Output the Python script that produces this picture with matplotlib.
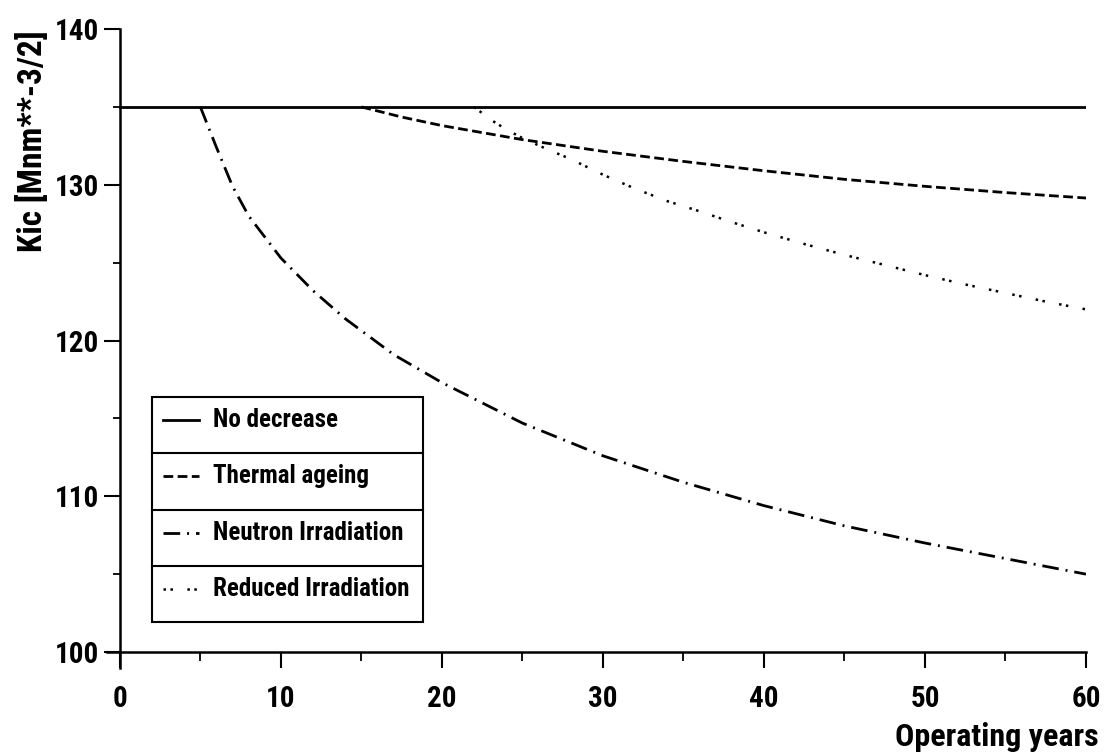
import matplotlib
matplotlib.use("Agg")
import matplotlib.pyplot as plt
from matplotlib.lines import Line2D
from matplotlib.patches import Rectangle
from matplotlib.ticker import MultipleLocator

plt.rcParams['font.family'] = ['Roboto Condensed', 'Liberation Sans', 'DejaVu Sans']
plt.rcParams['font.weight'] = 'bold'
plt.rcParams['lines.scale_dashes'] = False

# fracture toughness Kic over operating years, one list per case
years_none = [0, 60]
kic_none = [135.0, 135.0]

years_thermal = [15, 17.5, 20, 25, 30, 35, 40, 45, 50, 55, 60]
kic_thermal = [135.0, 134.35, 133.8, 132.9, 132.15, 131.5, 130.9, 130.35, 129.9, 129.5, 129.15]

years_neutron = [5, 6, 7, 8, 10, 12, 14, 17, 20, 25, 30, 35, 40, 45, 50, 55, 60]
kic_neutron = [135.0, 132.4, 129.9, 128.0, 125.3, 123.2, 121.4, 119.1, 117.3, 114.7,
               112.6, 110.9, 109.4, 108.1, 107.0, 106.0, 105.0]

years_reduced = [22, 23, 24, 25, 26.5, 28, 30, 32, 34, 36, 38, 40, 42.5, 45, 47.5,
                 50, 52.5, 55, 57.5, 60]
kic_reduced = [135.0, 134.2, 133.55, 133.0, 132.3, 131.65, 130.65, 129.75, 128.95, 128.3,
               127.6, 126.95, 126.2, 125.5, 124.85, 124.2, 123.6, 123.05, 122.5, 122.0]

labels = ["No decrease", "Thermal ageing", "Neutron Irradiation", "Reduced Irradiation"]

styles = [
    dict(linestyle='-', linewidth=2.0),
    dict(linestyle=(0, (7, 3.2)), linewidth=2.0, dash_capstyle='butt'),
    dict(linestyle=(0, (12, 5, 1.4, 5)), linewidth=2.0, dash_capstyle='butt'),
    dict(linestyle=(0, (1.8, 3.2, 1.8, 10.4)), linewidth=1.8, dash_capstyle='butt'),
]

fig = plt.figure(figsize=(11.05, 7.56), dpi=100)
ax = fig.add_axes([0.0968, 0.1169, 0.886, 0.8447])

series = [(years_none, kic_none), (years_thermal, kic_thermal),
          (years_neutron, kic_neutron), (years_reduced, kic_reduced)]
for (xs, ys), st in zip(series, styles):
    ax.plot(xs, ys, color='black', **st)

ax.set_xlim(-0.8, 60)
ax.set_ylim(99.0, 140)

for side in ['top', 'right']:
    ax.spines[side].set_visible(False)
ax.spines['left'].set_position(('data', 0))
ax.spines['bottom'].set_position(('data', 100))
ax.spines['left'].set_linewidth(1.8)
ax.spines['bottom'].set_linewidth(1.8)

ax.xaxis.set_major_locator(MultipleLocator(10))
ax.xaxis.set_minor_locator(MultipleLocator(5))
ax.yaxis.set_major_locator(MultipleLocator(10))
ax.yaxis.set_minor_locator(MultipleLocator(5))
ax.tick_params(axis='x', which='major', direction='out', length=11.5, width=1.5,
               pad=12, labelsize=21)
ax.tick_params(axis='x', which='minor', direction='out', length=6.5, width=1.3)
ax.tick_params(axis='y', which='major', direction='out', length=11.5, width=1.5,
               pad=3.5, labelsize=21)
ax.tick_params(axis='y', which='minor', direction='out', length=5, width=1.3)

fig.text(33 / 1105, 1 - 141 / 756, "Kic [Mnm**-3/2]", rotation=90,
         ha='center', va='center', fontsize=24, fontweight='bold')
fig.text(1099 / 1105, 1 - 737 / 756, "Operating years", ha='right', va='center',
         fontsize=23, fontweight='bold')

# table-style legend box with a row per case
lx0, lx1 = 0.046, 0.323
ly_top, ly_bot = 0.4237, 0.0714
row_h = (ly_top - ly_bot) / len(labels)
ax.add_patch(Rectangle((lx0, ly_bot), lx1 - lx0, ly_top - ly_bot, transform=ax.transAxes,
                       facecolor='white', edgecolor='black', linewidth=1.5, zorder=5))
for i, (lab, st) in enumerate(zip(labels, styles)):
    top = ly_top - i * row_h
    if i > 0:
        ax.add_line(Line2D([lx0, lx1], [top, top], transform=ax.transAxes,
                           color='black', linewidth=1.5, zorder=6))
    yc = top - row_h * 0.5 + 0.008
    ax.add_line(Line2D([0.057, 0.094], [yc, yc], transform=ax.transAxes,
                       color='black', zorder=6, **st))
    ax.text(0.108, yc, lab, transform=ax.transAxes, ha='left', va='center',
            fontsize=18, fontweight='bold', zorder=7)

fig.savefig("out.png", dpi=100)
